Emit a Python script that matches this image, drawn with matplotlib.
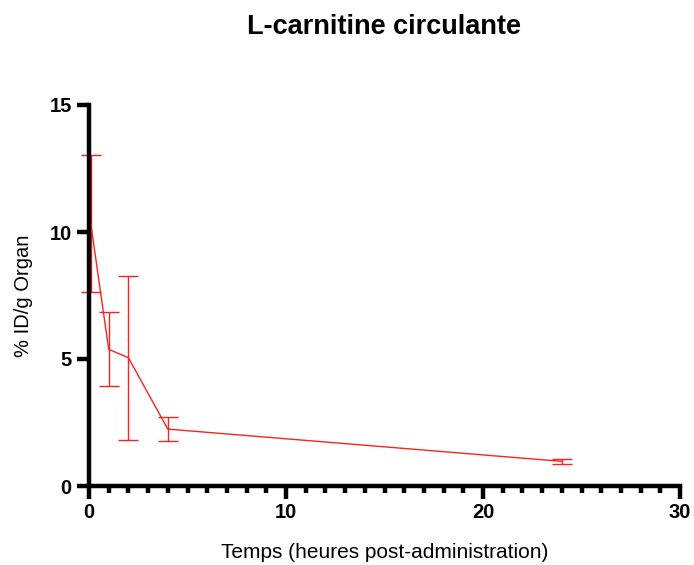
import matplotlib
matplotlib.use("Agg")
import matplotlib.pyplot as plt
from matplotlib.ticker import MultipleLocator

plt.rcParams['font.family'] = ['Liberation Sans', 'DejaVu Sans']

# Données
temps = [0.083, 1, 2, 4, 24]
moyenne = [10.37, 5.38, 5.05, 2.24, 0.97]
err_haut = [2.66, 1.48, 3.22, 0.49, 0.09]
err_bas = [2.72, 1.44, 3.24, 0.47, 0.09]

fig = plt.figure(figsize=(6.94, 5.65), dpi=100)
ax = fig.add_axes([89 / 694, 1 - 486 / 565, (680 - 89) / 694, (486 - 105) / 565])

ax.errorbar(temps, moyenne, yerr=[err_bas, err_haut], color='#ff2020', lw=1,
            elinewidth=1, capsize=7, capthick=1, clip_on=False)

ax.set_xlim(0, 30)
ax.set_ylim(0, 15)
ax.set_xticks([0, 10, 20, 30])
ax.set_yticks([0, 5, 10, 15])
ax.xaxis.set_minor_locator(MultipleLocator(1))

for s in ['top', 'right']:
    ax.spines[s].set_visible(False)
for s in ['left', 'bottom']:
    ax.spines[s].set_linewidth(3.2)

ax.tick_params(which='major', length=9, width=3.2, labelsize=14.5)
ax.tick_params(which='minor', length=5, width=3.2)
for lab in ax.get_xticklabels() + ax.get_yticklabels():
    lab.set_fontweight('bold')

ax.set_xlabel("Temps (heures post-administration)", fontsize=15, labelpad=15)
ax.set_ylabel("% ID/g Organ", fontsize=14.5, labelpad=12)
fig.suptitle("L-carnitine circulante", fontsize=19.5, fontweight='bold', x=384 / 694, y=1 - 27 / 565, va='center')

fig.savefig("out.png", dpi=100)
